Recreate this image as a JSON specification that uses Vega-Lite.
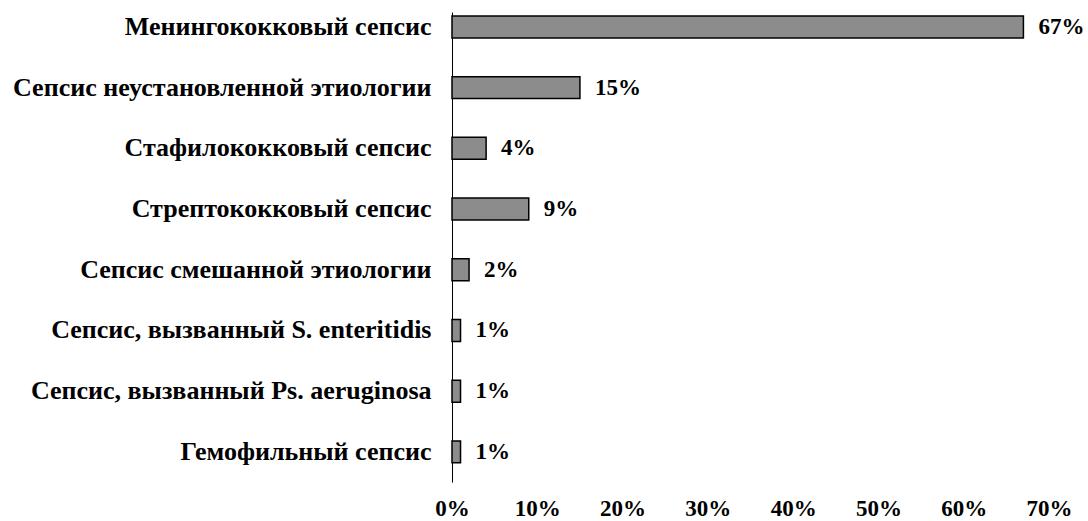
{
  "$schema": "https://vega.github.io/schema/vega-lite/v6.json",
  "width": 597,
  "height": 470,
  "autosize": {"type": "none"},
  "padding": {"left": 452, "top": 12, "right": 39, "bottom": 39},
  "background": "white",
  "config": {
    "view": {"stroke": null},
    "font": "Liberation Serif"
  },
  "data": {
    "values": [
      {"category": "Менингококковый сепсис", "share": 0.67},
      {"category": "Сепсис неустановленной этиологии", "share": 0.15},
      {"category": "Стафилококковый сепсис", "share": 0.04},
      {"category": "Стрептококковый сепсис", "share": 0.09},
      {"category": "Сепсис смешанной этиологии", "share": 0.02},
      {"category": "Сепсис, вызванный S. enteritidis", "share": 0.01},
      {"category": "Сепсис, вызванный Ps. aeruginosa", "share": 0.01},
      {"category": "Гемофильный сепсис", "share": 0.01}
    ]
  },
  "encoding": {
    "y": {
      "field": "category",
      "type": "nominal",
      "sort": null,
      "title": null,
      "scale": {"paddingInner": 0.638, "paddingOuter": 0.19, "align": 0.17},
      "axis": {
        "ticks": false,
        "domain": true,
        "domainColor": "black",
        "domainWidth": 1,
        "labelFont": "Liberation Serif",
        "labelFontSize": 26,
        "labelFontWeight": "bold",
        "labelColor": "black",
        "labelPadding": 21,
        "labelLimit": 0
      }
    },
    "x": {
      "field": "share",
      "type": "quantitative",
      "title": null,
      "scale": {"domain": [0, 0.7], "nice": false},
      "axis": {
        "format": ".0%",
        "values": [0, 0.1, 0.2, 0.3, 0.4, 0.5, 0.6, 0.7],
        "grid": false,
        "ticks": false,
        "domain": false,
        "labelFont": "Liberation Serif",
        "labelFontSize": 23,
        "labelFontWeight": "bold",
        "labelColor": "black",
        "labelBaseline": "alphabetic",
        "labelPadding": 33,
        "labelFlush": false
      }
    }
  },
  "layer": [
    {
      "mark": {"type": "bar", "fill": "#8c8c8c", "stroke": "black", "strokeWidth": 1.5}
    },
    {
      "mark": {
        "type": "text",
        "align": "left",
        "baseline": "middle",
        "dx": 15,
        "font": "Liberation Serif",
        "fontSize": 23,
        "fontWeight": "bold",
        "color": "black"
      },
      "encoding": {
        "text": {"field": "share", "type": "quantitative", "format": ".0%"}
      }
    }
  ]
}
